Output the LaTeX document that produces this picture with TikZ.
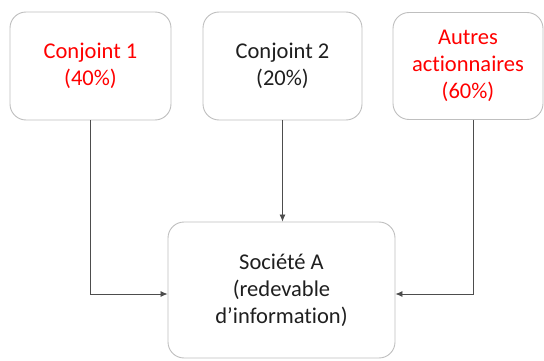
\documentclass[tikz,border=0pt]{standalone}
\usepackage{fontspec}
\setmainfont{Carlito}[Ligatures=NoCommon]
\usetikzlibrary{arrows.meta}
\definecolor{boxgray}{HTML}{BFBFBF}
\definecolor{linegray}{HTML}{4D4D4D}
\definecolor{txtgray}{HTML}{1F1F1F}

\begin{document}
\begin{tikzpicture}[x=1pt,y=-1pt,
    box/.style={draw=boxgray,line width=0.9pt,rounded corners=16pt,fill=white,
      align=center,font=\fontsize{22.5}{27}\selectfont,text=txtgray},
    link/.style={draw=linegray,line width=0.8pt,-{Latex[length=7pt,width=6pt]}}]
  \useasboundingbox (0,0) rectangle (544,361);

  % shareholders
  \node[box,minimum width=161pt,minimum height=108pt,text=red] (conj1) at (90.5,66) {Conjoint 1\\(40\%)};
  \node[box,minimum width=159pt,minimum height=108pt] (conj2) at (282.5,66) {Conjoint 2\\(20\%)};
  \node[box,minimum width=150pt,minimum height=107pt,text=red] (autres) at (468,66) {Autres\\actionnaires\\(60\%)};

  % company
  \node[box,minimum width=227pt,minimum height=136pt] (societe) at (281.5,290) {Soci\'et\'e A\\(redevable\\d'information)};

  % links to the company
  \draw[link] (conj1.south) |- ([yshift=-4pt]societe.west);
  \draw[link] (conj2.south) -- (conj2.south |- societe.north);
  \draw[link] ([xshift=5pt]autres.south) |- ([yshift=-4pt]societe.east);
\end{tikzpicture}
\end{document}
